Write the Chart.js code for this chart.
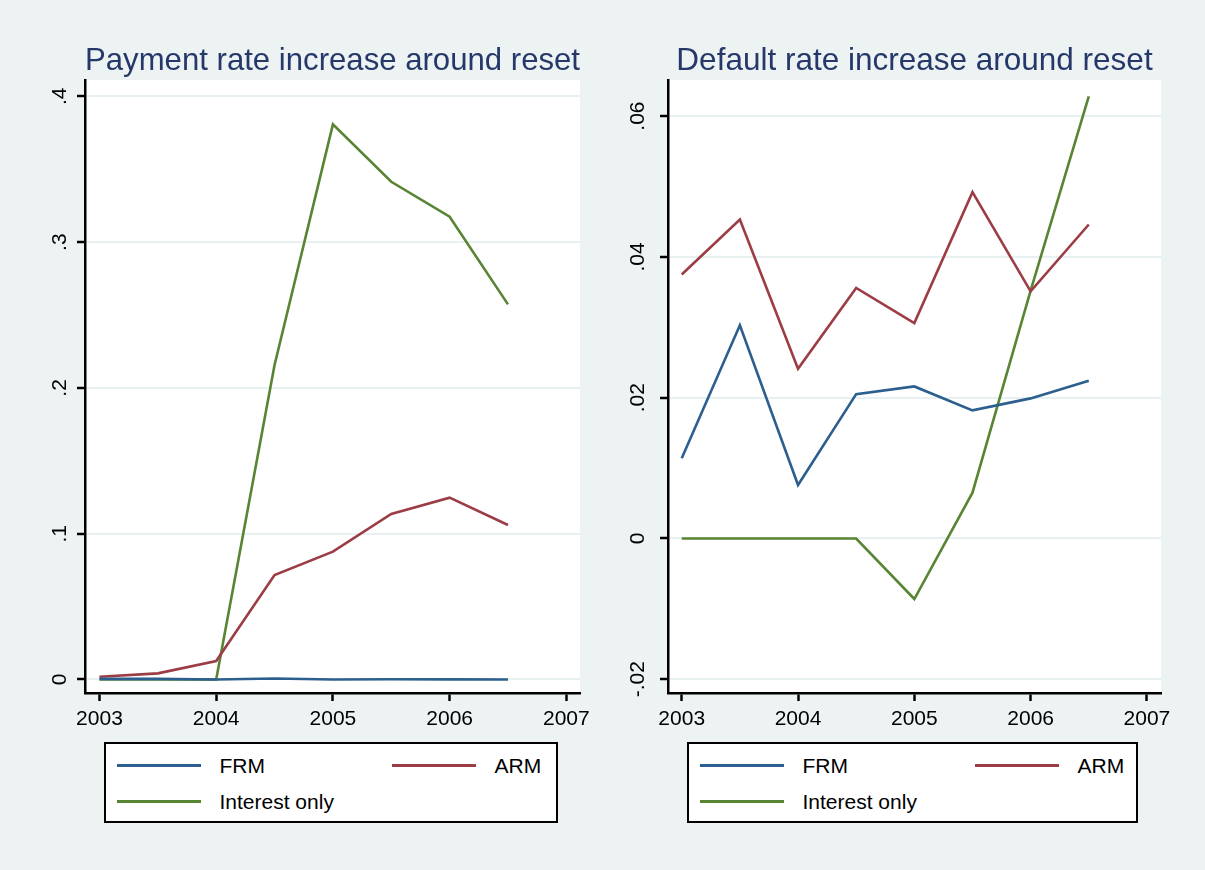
<!DOCTYPE html>
<html>
<head>
<meta charset="utf-8">
<script src="https://cdn.jsdelivr.net/npm/chart.js@4/dist/chart.umd.min.js"></script>
<style>
  html, body { margin: 0; padding: 0; background: #edf3f3; }
  body { width: 1205px; height: 870px; position: relative; overflow: hidden;
         font-family: "Liberation Sans", Arial, Helvetica, sans-serif; }
  .wrap { position: absolute; top: 0; height: 870px; }
  canvas { display: block; }
  .legend { position: absolute; top: 742px; height: 81px; box-sizing: border-box;
            border: 2.5px solid #000; background: #fff; }
  .item { position: absolute; height: 24px; font-size: 21px; line-height: 24px; color: #000; }
  .item .sw { position: absolute; left: 0; top: 10.5px; width: 84px; height: 3px; }
  .item .tx { position: absolute; left: 103px; top: 0; white-space: nowrap; }
</style>
</head>
<body>
<div class="wrap" style="left:0;width:600px;"><canvas id="c1" width="600" height="870"></canvas></div>
<div class="wrap" style="left:600px;width:605px;"><canvas id="c2" width="605" height="870"></canvas></div>
<div class="legend" id="lg1" style="left:104px;width:454px;"></div>
<div class="legend" id="lg2" style="left:687px;width:451px;"></div>
<script>
// ---------- data ----------
const years = [2003, 2003.5, 2004, 2004.5, 2005, 2005.5, 2006, 2006.5];
const xTicks = [2003, 2004, 2005, 2006, 2007];
const xTickLabels = ['2003', '2004', '2005', '2006', '2007'];

const seriesNames = ['FRM', 'ARM', 'Interest only'];
const seriesColors = ['#2c5f8e', '#9c3d45', '#588533'];

const payTitle = 'Payment rate increase around reset';
const payFRM = [0.0004, 0.0004, 0.0, 0.0007, 0.0, 0.0002, 0.0001, 0.0];
const payARM = [0.0019, 0.0042, 0.0127, 0.0717, 0.0877, 0.1135, 0.1247, 0.1060];
const payIO  = [0.0, 0.0, 0.0, 0.2157, 0.3808, 0.3414, 0.3174, 0.2573];
const payTicks = [0, 0.1, 0.2, 0.3, 0.4];
const payTickLabels = ['0', '.1', '.2', '.3', '.4'];

const defTitle = 'Default rate increase around reset';
const defFRM = [0.0114, 0.0303, 0.0076, 0.0205, 0.0216, 0.0182, 0.0199, 0.0224];
const defARM = [0.0375, 0.0453, 0.0241, 0.0356, 0.0306, 0.0492, 0.0351, 0.0446];
const defIO  = [0.0, 0.0, 0.0, 0.0, -0.0086, 0.0065, 0.0352, 0.0628];
const defTicks = [-0.02, 0, 0.02, 0.04, 0.06];
const defTickLabels = ['-.02', '0', '.02', '.04', '.06'];

// ---------- helpers ----------
const FONT = '"Liberation Sans", Arial, Helvetica, sans-serif';

const plotBg = {
  id: 'plotBg',
  beforeDraw(chart) {
    const { ctx, chartArea: a } = chart;
    ctx.save();
    ctx.fillStyle = '#ffffff';
    ctx.fillRect(a.left, a.top, a.right - a.left, a.bottom - a.top);
    ctx.restore();
  }
};

const htmlLegend = {
  id: 'htmlLegend',
  afterUpdate(chart, args, opts) {
    const box = document.getElementById(opts.containerID);
    box.innerHTML = '';
    const pos = [[10.5, 9.5], [285.5, 9.5], [10.5, 45.5]];
    chart.data.datasets.forEach((ds, i) => {
      const it = document.createElement('div');
      it.className = 'item';
      it.style.left = pos[i][0] + 'px';
      it.style.top = pos[i][1] + 'px';
      const sw = document.createElement('div');
      sw.className = 'sw';
      sw.style.background = ds.borderColor;
      const tx = document.createElement('div');
      tx.className = 'tx';
      tx.textContent = ds.label;
      it.appendChild(sw);
      it.appendChild(tx);
      box.appendChild(it);
    });
  }
};

function makeDatasets(vals) {
  return vals.map((arr, i) => ({
    label: seriesNames[i],
    data: years.map((x, j) => ({ x: x, y: arr[j] })),
    borderColor: seriesColors[i],
    backgroundColor: seriesColors[i],
    borderWidth: 2.6,
    pointRadius: 0,
    tension: 0,
    fill: false
  }));
}

function makeChart(id, cfg) {
  return new Chart(document.getElementById(id), {
    type: 'line',
    data: { datasets: makeDatasets(cfg.series) },
    plugins: [plotBg, htmlLegend],
    options: {
      responsive: false,
      animation: false,
      devicePixelRatio: 1,
      layout: { padding: { left: 0, right: cfg.padRight, top: 0, bottom: 117 } },
      plugins: {
        legend: { display: false },
        tooltip: { enabled: false },
        htmlLegend: { containerID: cfg.legendId },
        title: {
          display: true,
          text: cfg.title,
          fullSize: false,
          color: '#26386a',
          font: { size: 31.5, family: FONT, weight: 'normal' },
          padding: { top: 42, bottom: 0.2 }
        }
      },
      scales: {
        x: {
          type: 'linear',
          min: cfg.xMin, max: cfg.xMax,
          afterBuildTicks: s => { s.ticks = xTicks.map(v => ({ value: v })); },
          afterFit: s => { s.height = 60; },
          grid: { drawOnChartArea: false, drawTicks: true, tickLength: 8, tickColor: '#000', tickWidth: 2.5 },
          border: { display: true, color: '#000', width: 2.5 },
          ticks: {
            color: '#000', font: { size: 21, family: FONT }, padding: 6,
            minRotation: 0, maxRotation: 0,
            callback: (v, i) => xTickLabels[i]
          }
        },
        y: {
          type: 'linear',
          min: cfg.yMin, max: cfg.yMax,
          afterBuildTicks: s => { s.ticks = cfg.yTicks.map(v => ({ value: v })); },
          afterFit: s => { s.width = cfg.yWidth; },
          grid: { color: '#e8f0f1', lineWidth: 2, drawTicks: true, tickLength: 8, tickColor: '#000', tickWidth: 2.5 },
          border: { display: true, color: '#000', width: 2.5 },
          ticks: {
            color: '#000', font: { size: 21, family: FONT }, padding: cfg.yPad,
            minRotation: 90, maxRotation: 90, crossAlign: 'center',
            callback: (v, i) => cfg.yTickLabels[i]
          }
        }
      }
    }
  });
}

makeChart('c1', {
  series: [payFRM, payARM, payIO],
  title: payTitle,
  legendId: 'lg1',
  padRight: 20,
  yWidth: 85,
  yPad: 8,
  xMin: 2002.876, xMax: 2007.117,
  yMin: -0.00926, yMax: 0.4112,
  yTicks: payTicks, yTickLabels: payTickLabels
});

makeChart('c2', {
  series: [defFRM, defARM, defIO],
  title: defTitle,
  legendId: 'lg2',
  padRight: 44,
  yWidth: 68,
  yPad: 4,
  xMin: 2002.882, xMax: 2007.121,
  yMin: -0.02195, yMax: 0.06513,
  yTicks: defTicks, yTickLabels: defTickLabels
});
</script>
</body>
</html>
